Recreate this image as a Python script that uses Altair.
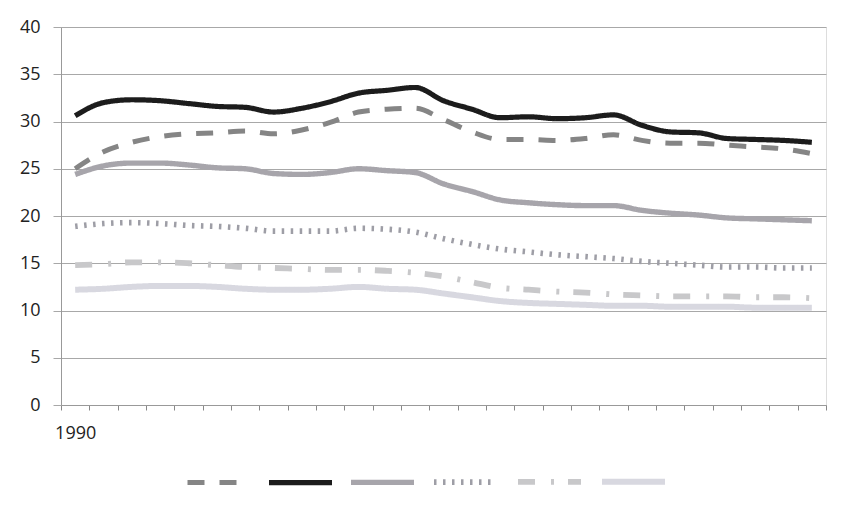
import altair as alt
import pandas as pd

years = list(range(1990, 2017))
series_names = ["A", "B", "C", "D", "E", "F"]
s1 = [25.0, 26.8, 27.8, 28.4, 28.7, 28.8, 29.0, 28.7, 29.1, 29.9, 31.0, 31.3, 31.4, 30.2, 28.9, 28.1, 28.1, 28.0, 28.2, 28.6, 28.0, 27.7, 27.7, 27.5, 27.3, 27.1, 26.6]
s2 = [30.6, 32.0, 32.3, 32.2, 31.9, 31.6, 31.5, 31.0, 31.4, 32.1, 33.0, 33.3, 33.6, 32.2, 31.3, 30.4, 30.5, 30.3, 30.4, 30.7, 29.6, 28.9, 28.8, 28.2, 28.1, 28.0, 27.8]
s3 = [24.4, 25.3, 25.6, 25.6, 25.4, 25.1, 25.0, 24.5, 24.4, 24.6, 25.0, 24.8, 24.6, 23.4, 22.6, 21.7, 21.4, 21.2, 21.1, 21.1, 20.6, 20.3, 20.1, 19.8, 19.7, 19.6, 19.5]
s4 = [18.9, 19.2, 19.3, 19.2, 19.0, 18.9, 18.7, 18.4, 18.4, 18.4, 18.7, 18.6, 18.3, 17.6, 17.0, 16.5, 16.2, 15.9, 15.7, 15.5, 15.2, 15.0, 14.8, 14.6, 14.6, 14.5, 14.5]
s5 = [14.8, 14.9, 15.1, 15.1, 15.0, 14.8, 14.6, 14.5, 14.4, 14.3, 14.3, 14.2, 14.0, 13.6, 13.0, 12.4, 12.2, 12.0, 11.9, 11.7, 11.6, 11.5, 11.5, 11.5, 11.4, 11.4, 11.3]
s6 = [12.2, 12.3, 12.5, 12.6, 12.6, 12.5, 12.3, 12.2, 12.2, 12.3, 12.5, 12.3, 12.2, 11.8, 11.4, 11.0, 10.8, 10.7, 10.6, 10.5, 10.5, 10.4, 10.4, 10.4, 10.3, 10.3, 10.3]
y_ticks = [0, 5, 10, 15, 20, 25, 30, 35, 40]

colors = ["#858585", "#1c1c1c", "#a7a5ab", "#9e9ea6", "#c8c8ca", "#d8d8e0"]
dashes = [[17, 15], [1, 0], [1, 0], [2.5, 6.5], [17, 16, 3, 14], [1, 0]]
widths = [5, 6, 6, 3.5, 4.5, 5]

rows = []
for name, vals in zip(series_names, [s1, s2, s3, s4, s5, s6]):
    for y, v in zip(years, vals):
        rows.append({"year": y, "series": name, "value": v})
df = pd.DataFrame(rows)

font = "Open Sans"

chart = alt.Chart(df).mark_line(interpolate="monotone", strokeJoin="round").encode(
    x=alt.X("year:O",
            scale=alt.Scale(type="band", paddingInner=0, paddingOuter=0),
            axis=alt.Axis(title=None, tickBand="extent", grid=False,
                          labelExpr="datum.value == 1990 ? '1990' : ''",
                          labelAngle=0, tickSize=5, tickColor="#888888",
                          domainColor="#999999", labelPadding=14,
                          labelFontSize=18, labelFont=font, labelColor="#222222")),
    y=alt.Y("value:Q",
            scale=alt.Scale(domain=[0, 40], nice=False),
            axis=alt.Axis(title=None, values=y_ticks, grid=True, gridColor="#a8a8a8",
                          tickSize=8, tickColor="#a8a8a8", domainColor="#999999",
                          labelPadding=13, labelFontSize=18, labelFont=font,
                          labelColor="#222222")),
    color=alt.Color("series:N", scale=alt.Scale(domain=series_names, range=colors),
                    legend=alt.Legend(title=None, orient="none", direction="horizontal",
                                      legendX=124, legendY=420, symbolType="stroke",
                                      symbolSize=3969, labelExpr="''", labelOffset=0,
                                      columnPadding=-3, labelLimit=0)),
    strokeDash=alt.StrokeDash("series:N", scale=alt.Scale(domain=series_names, range=dashes)),
    strokeWidth=alt.StrokeWidth("series:N", scale=alt.Scale(domain=series_names, range=widths)),
).properties(
    width=765, height=378,
    autosize=alt.AutoSizeParams(type="none"),
    padding={"left": 53, "top": 19, "right": 27, "bottom": 107},
).configure_view(stroke=None).configure(background="white")

chart.save("out.html", embed_options={"renderer": "svg", "actions": False})
